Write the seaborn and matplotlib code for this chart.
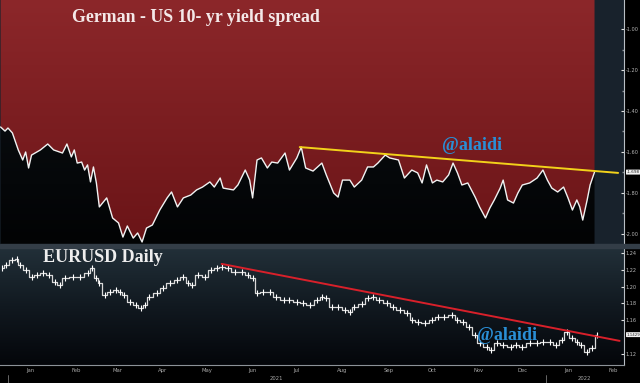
import numpy as np
import pandas as pd
import matplotlib
matplotlib.use("Agg")
import matplotlib.pyplot as plt
import matplotlib.dates as mdates
import seaborn as sns
from matplotlib.colors import LinearSegmentedColormap
from matplotlib.patches import Polygon, Rectangle
from matplotlib.transforms import blended_transform_factory

# ---------------- data ----------------
# days counted from 2021-01-01
spread_days = [-5, -2, 0, 3, 7, 10, 12, 14, 16, 22, 27, 31, 37, 40, 43, 45, 47, 50, 52, 54,
               56, 58, 60, 62, 67, 71, 75, 78, 81, 85, 88, 91, 94, 98, 103, 108, 111, 115, 119,
               124, 128, 132, 137, 140, 144, 146, 153, 156, 161, 164, 166, 169, 172, 176, 179,
               183, 188, 191, 196, 199, 202, 207, 213, 216, 221, 224, 227, 232, 235, 240, 244,
               248, 251, 256, 259, 265, 269, 274, 278, 281, 284, 288, 291, 295, 299, 302, 305,
               308, 312, 317, 320, 324, 327, 330, 334, 336, 339, 343, 346, 349, 354, 359, 363,
               366, 369, 373, 377, 380, 383, 386, 388, 390, 393, 395, 398]
spread_vals = [-1.478, -1.498, -1.483, -1.507, -1.590, -1.639, -1.600, -1.678, -1.615, -1.590,
               -1.561, -1.590, -1.605, -1.561, -1.624, -1.590, -1.654, -1.649, -1.688, -1.663,
               -1.746, -1.673, -1.751, -1.868, -1.824, -1.922, -1.946, -2.015, -1.961, -2.020,
               -1.995, -2.039, -1.971, -1.956, -1.883, -1.824, -1.795, -1.868, -1.824, -1.810,
               -1.785, -1.771, -1.746, -1.771, -1.727, -1.776, -1.785, -1.761, -1.688, -1.737,
               -1.824, -1.639, -1.629, -1.678, -1.649, -1.654, -1.605, -1.688, -1.629, -1.576,
               -1.678, -1.693, -1.654, -1.712, -1.800, -1.820, -1.737, -1.737, -1.771, -1.737,
               -1.673, -1.673, -1.654, -1.615, -1.629, -1.639, -1.727, -1.688, -1.702, -1.751,
               -1.663, -1.751, -1.737, -1.746, -1.712, -1.654, -1.702, -1.761, -1.751, -1.820,
               -1.868, -1.922, -1.873, -1.834, -1.776, -1.737, -1.834, -1.849, -1.800, -1.761,
               -1.751, -1.727, -1.688, -1.737, -1.776, -1.795, -1.771, -1.824, -1.883, -1.834,
               -1.868, -1.932, -1.834, -1.761, -1.698]

eur_days = [-4, -1, 3, 6, 8, 12, 16, 20, 24, 28, 32, 35, 39, 44, 49, 54, 57, 60, 62, 66, 69,
            73, 76, 79, 83, 87, 90, 93, 96, 101, 105, 110, 115, 119, 122, 125, 129, 134, 138,
            142, 145, 149, 154, 159, 163, 166, 169, 173, 178, 182, 187, 191, 196, 200, 205,
            210, 213, 216, 220, 224, 229, 232, 235, 240, 244, 248, 252, 257, 261, 266, 271,
            274, 278, 283, 288, 292, 296, 301, 305, 309, 313, 317, 320, 325, 328, 332, 336,
            341, 345, 349, 354, 359, 363, 368, 372, 376, 379, 383, 386, 389, 393, 396, 400]
eur_vals = [1.2222, 1.2257, 1.2317, 1.2329, 1.2257, 1.2198, 1.2115, 1.2139, 1.2162, 1.2139,
            1.2055, 1.2020, 1.2103, 1.2115, 1.2115, 1.2162, 1.2222, 1.2103, 1.2044, 1.1901,
            1.1937, 1.1960, 1.1937, 1.1901, 1.1818, 1.1782, 1.1747, 1.1782, 1.1877, 1.1925,
            1.1984, 1.2044, 1.2079, 1.2115, 1.2044, 1.2020, 1.2139, 1.2115, 1.2198, 1.2222,
            1.2234, 1.2222, 1.2174, 1.2174, 1.2139, 1.2103, 1.1925, 1.1937, 1.1937, 1.1877,
            1.1842, 1.1842, 1.1818, 1.1806, 1.1782, 1.1842, 1.1877, 1.1865, 1.1758, 1.1758,
            1.1723, 1.1699, 1.1758, 1.1794, 1.1865, 1.1877, 1.1842, 1.1806, 1.1758, 1.1723,
            1.1687, 1.1604, 1.1580, 1.1568, 1.1604, 1.1640, 1.1640, 1.1663, 1.1604, 1.1580,
            1.1521, 1.1426, 1.1331, 1.1283, 1.1248, 1.1331, 1.1307, 1.1283, 1.1307, 1.1283,
            1.1331, 1.1331, 1.1343, 1.1343, 1.1307, 1.1366, 1.1461, 1.1390, 1.1343, 1.1307,
            1.1224, 1.1271, 1.1429]

spread_trend_dates = ["2021-07-18", "2022-02-19"]
spread_trend_vals = [-1.576, -1.702]
eur_trend_dates = ["2021-05-26", "2022-02-20"]
eur_trend_vals = [1.2270, 1.1355]

spread_ticks = [-1.00, -1.20, -1.40, -1.60, -1.80, -2.00]
spread_minor = [-1.10, -1.30, -1.50, -1.70, -1.90]
eur_ticks = [1.24, 1.22, 1.20, 1.18, 1.16, 1.12]
month_labels = ["Jan", "Feb", "Mar", "Apr", "May", "Jun", "Jul", "Aug", "Sep", "Oct",
                "Nov", "Dec", "Jan", "Feb"]
year_labels = ["2021", "2022"]

title_top = "German - US 10- yr yield spread"
title_bottom = "EURUSD Daily"
handle = "@alaidi"

# ---------------- prep ----------------
base = pd.Timestamp("2021-01-01")
sdates = base + pd.to_timedelta(spread_days, unit="D")
edates = base + pd.to_timedelta(eur_days, unit="D")
df_s = pd.DataFrame({"date": sdates, "spread": spread_vals})
df_e = pd.DataFrame({"date": edates, "eurusd": eur_vals})
df_st = pd.DataFrame({"date": pd.to_datetime(spread_trend_dates), "v": spread_trend_vals})
df_et = pd.DataFrame({"date": pd.to_datetime(eur_trend_dates), "v": eur_trend_vals})

xmin = base - pd.Timedelta(days=5.4)
xmax = base + pd.Timedelta(days=418)
top_lim = (-2.0537, -0.8585)
bot_lim = (1.1068, 1.2471)

sns.set_theme(style="dark")
plt.rcParams["font.family"] = ["DejaVu Sans"]

W, H = 640, 383
fig = plt.figure(figsize=(W / 100, H / 100), dpi=100, facecolor="black")
axT = fig.add_axes([0, 1 - 245 / H, 624 / W, 245 / H])
axB = fig.add_axes([0, 1 - 365 / H, 624 / W, 118 / H])

# separator band
fig.patches.append(Rectangle((0, 1 - 248 / H), 1, 4 / H, transform=fig.transFigure,
                             color="#333d47", zorder=0))

# ---------------- top panel ----------------
axT.set_facecolor("#18222c")
axT.set_xlim(xmin, xmax)
axT.set_ylim(*top_lim)
x0, x1 = mdates.date2num(xmin), mdates.date2num(xmax)

for m in pd.date_range("2021-01-01", "2022-03-01", freq="MS"):
    axT.axvline(m, color="#3a1e26", lw=0.6, zorder=0.5)

xs = mdates.date2num(sdates)
red_cmap = LinearSegmentedColormap.from_list("r", ["#6a1417", "#8c272a"])
blk_cmap = LinearSegmentedColormap.from_list("b", ["#020304", "#0e1318"])
grad = np.linspace(0, 1, 256).reshape(-1, 1)

red_poly = Polygon([(xs[0], top_lim[1])] + list(zip(xs, spread_vals)) + [(xs[-1], top_lim[1])],
                   closed=True, transform=axT.transData, facecolor="none", edgecolor="none")
axT.add_patch(red_poly)
im1 = axT.imshow(grad, cmap=red_cmap, origin="lower", aspect="auto",
                 extent=[x0, x1, top_lim[0], top_lim[1]], zorder=1)
im1.set_clip_path(red_poly)
blk_poly = Polygon([(xs[0], top_lim[0])] + list(zip(xs, spread_vals)) + [(xs[-1], top_lim[0])],
                   closed=True, transform=axT.transData, facecolor="none", edgecolor="none")
axT.add_patch(blk_poly)
im2 = axT.imshow(grad, cmap=blk_cmap, origin="lower", aspect="auto",
                 extent=[x0, x1, top_lim[0], top_lim[1]], zorder=1)
im2.set_clip_path(blk_poly)

sns.lineplot(data=df_s, x="date", y="spread", ax=axT, color="#f2f2f2", lw=1.0, zorder=3)
sns.lineplot(data=df_st, x="date", y="v", ax=axT, color="#f2d21a", lw=1.4, zorder=4)

# ---------------- bottom panel ----------------
axB.set_xlim(xmin, xmax)
axB.set_ylim(*bot_lim)
bg_cmap = LinearSegmentedColormap.from_list("bg", ["#04060a", "#111920", "#223039"])
axB.imshow(grad, cmap=bg_cmap, origin="lower", aspect="auto",
           extent=[0, 1, 0, 1], transform=axB.transAxes, zorder=0)
sns.lineplot(data=df_e, x="date", y="eurusd", ax=axB, color="#d9d9d9", lw=0.9,
             drawstyle="steps-mid", marker="|", markersize=4, markeredgewidth=0.8, zorder=3)
sns.lineplot(data=df_et, x="date", y="v", ax=axB, color="#d8202a", lw=1.4, zorder=4)

# ---------------- axes styling ----------------
for ax, ticks, fmt in [(axT, spread_ticks, "{:.2f}"), (axB, eur_ticks, "{:.2f}")]:
    ax.set_xlabel("")
    ax.set_ylabel("")
    ax.grid(False)
    for s in ["left", "top"]:
        ax.spines[s].set_visible(False)
    ax.spines["right"].set_visible(True)
    ax.spines["right"].set_color("#b8bec4")
    ax.spines["right"].set_linewidth(0.8)
    ax.yaxis.tick_right()
    ax.set_yticks(ticks)
    ax.set_yticklabels([fmt.format(t) for t in ticks])
    ax.tick_params(axis="y", which="major", direction="in", length=2.5, width=0.8,
                   color="#e0e0e0", labelsize=3.6, labelcolor="#b8b8b8", pad=1.2)

axT.spines["bottom"].set_visible(False)
axT.set_xticks([])
axT.set_yticks(spread_minor, minor=True)
axT.tick_params(axis="y", which="minor", direction="in", length=1.2, color="#8a9096")

axB.spines["bottom"].set_visible(True)
axB.spines["bottom"].set_color("#8c9298")
axB.spines["bottom"].set_linewidth(0.8)
month_starts = pd.date_range("2021-01-01", "2022-02-01", freq="MS")
axB.set_xticks(month_starts)
axB.set_xticklabels([""] * len(month_starts))
mids = month_starts + pd.Timedelta(days=15)
axB.set_xticks(mids, minor=True)
axB.set_xticklabels(month_labels, minor=True)
axB.tick_params(axis="x", which="major", direction="inout", length=2, width=0.6, color="#bbbbbb")
axB.tick_params(axis="x", which="minor", length=0, labelsize=3.8, labelcolor="#a8a8a8", pad=2.5)

# final limits (after tick setting)
for ax, lim in [(axT, top_lim), (axB, bot_lim)]:
    ax.set_xlim(xmin, xmax)
    ax.set_ylim(*lim)

# year labels and separators
trB = blended_transform_factory(axB.transData, fig.transFigure)
axB.text(pd.Timestamp("2021-07-02"), 1 - 379 / H, year_labels[0], transform=trB,
         fontsize=3.8, color="#a8a8a8", ha="center", va="center")
axB.text(pd.Timestamp("2022-01-27"), 1 - 379 / H, year_labels[1], transform=trB,
         fontsize=3.8, color="#a8a8a8", ha="center", va="center")
for d in ["2021-01-01", "2022-01-01"]:
    axB.plot([pd.Timestamp(d)] * 2, [1 - 375 / H, 1 - 383 / H], transform=trB,
             color="#777777", lw=0.6, clip_on=False)

# last value tags
trT = blended_transform_factory(axT.transAxes, axT.transData)
axT.text(1.004, spread_vals[-1], f"{spread_vals[-1]:.3f}", transform=trT, fontsize=3.0,
         color="#222222", ha="left", va="center",
         bbox=dict(boxstyle="round,pad=0.12", fc="#f2f2f2", ec="none"))
trE = blended_transform_factory(axB.transAxes, axB.transData)
axB.text(1.004, eur_vals[-1], f"{eur_vals[-1]:.4f}", transform=trE, fontsize=2.8,
         color="#222222", ha="left", va="center",
         bbox=dict(boxstyle="round,pad=0.12", fc="#f2f2f2", ec="none"))

# titles / handles
axT.text(72 / 624, 1 - 17 / 245, title_top, transform=axT.transAxes, family="Liberation Serif",
         fontweight="bold", fontsize=12.9, color="#f4e8e8", ha="left", va="center", zorder=6)
axB.text(43 / 624, (365 - 257) / 118, title_bottom, transform=axB.transAxes,
         family="Liberation Serif", fontweight="bold", fontsize=13, color="#eeeeee",
         ha="left", va="center", zorder=6)
axT.text(442 / 624, 1 - 146 / 245, handle, transform=axT.transAxes, family="Liberation Serif",
         fontweight="bold", fontsize=13, color="#2a8fd6", ha="left", va="center", zorder=6)
axB.text(477 / 624, (365 - 336) / 118, handle, transform=axB.transAxes,
         family="Liberation Serif", fontweight="bold", fontsize=13, color="#2a8fd6",
         ha="left", va="center", zorder=6)

fig.savefig("out.png", dpi=100, facecolor="black")
